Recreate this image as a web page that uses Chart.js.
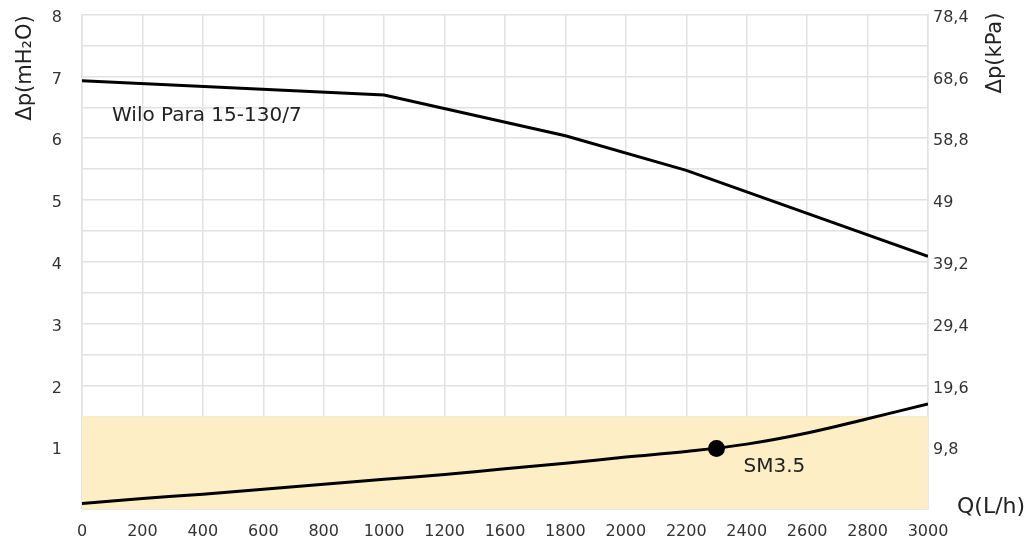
<!DOCTYPE html>
<html>
<head>
<meta charset="utf-8">
<script src="https://cdn.jsdelivr.net/npm/chart.js@4.4.0/dist/chart.umd.min.js"></script>
<style>
  html, body { margin: 0; padding: 0; background: #fff; }
  #wrap { width: 1029px; height: 540px; }
</style>
</head>
<body>
<div id="wrap"><canvas id="pumpChart"></canvas></div>
<script>
// x tick labels as printed (1400 is missing on the original axis)
const xLabels = ['0', '200', '400', '600', '800', '1000', '1200', '1600', '1800', '2000', '2200', '2400', '2600', '2800', '3000'];
const yLabels = ['', '1', '2', '3', '4', '5', '6', '7', '8'];
const kPaLabels = ['', '9,8', '19,6', '29,4', '39,2', '49', '58,8', '68,6', '78,4'];

// pump curve (Wilo Para 15-130/7)
const pumpQ = [0, 1000, 1800, 2200, 3000];
const pumpH = [6.93, 6.70, 6.04, 5.48, 4.09];

// system curve
const sysQ = [0, 200, 400, 600, 800, 1000, 1200, 1600, 1800, 2000, 2200, 2400, 2600, 2800, 3000];
const sysH = [0.09, 0.17, 0.24, 0.32, 0.40, 0.48, 0.56, 0.65, 0.74, 0.84, 0.93, 1.05, 1.23, 1.46, 1.70];

// operating point
const dutyQ = [2300];
const dutyH = [0.98];

// shaded zone
const zoneTop = 1.5;

const FONT = 'DejaVu Sans';

// the axis is evenly spaced by printed label, so place Q between its neighbouring labels
function qToSlot(q) {
    const vals = xLabels.map(Number);
    for (let i = 0; i < vals.length - 1; i++) {
        if (q <= vals[i + 1]) {
            return i + (q - vals[i]) / (vals[i + 1] - vals[i]);
        }
    }
    return vals.length - 1;
}

function toPoints(qs, hs) {
    return qs.map((q, i) => ({ x: qToSlot(q), y: hs[i] }));
}

const textPlugin = {
    id: 'textPlugin',
    afterDraw(chart) {
        const ctx = chart.ctx;
        const xs = chart.scales.x;
        const ys = chart.scales.y;
        ctx.save();
        ctx.fillStyle = '#222';
        ctx.textBaseline = 'middle';

        ctx.font = '20px "' + FONT + '"';
        ctx.textAlign = 'left';
        ctx.fillText('Wilo Para 15-130/7', 112, 116);
        ctx.fillText('SM3.5', xs.getPixelForValue(qToSlot(2300)) + 27, ys.getPixelForValue(0.68));
        ctx.font = '22px "' + FONT + '"';
        ctx.fillText('Q(L/h)', 957, 507);

        // left axis title
        ctx.save();
        ctx.translate(26, 68);
        ctx.rotate(-Math.PI / 2);
        ctx.textAlign = 'center';
        ctx.font = '21px "' + FONT + '"';
        ctx.fillText('\u0394p(mH\u2082O)', 0, 0);
        ctx.restore();

        // right axis title
        ctx.save();
        ctx.translate(996, 53);
        ctx.rotate(-Math.PI / 2);
        ctx.textAlign = 'center';
        ctx.font = '21px "' + FONT + '"';
        ctx.fillText('\u0394p(kPa)', 0, 0);
        ctx.restore();

        ctx.restore();
    }
};

const pumpChart = document.getElementById('pumpChart');
new Chart(pumpChart, {
    type: 'line',
    data: {
        datasets: [
            {
                label: 'SM3.5 point',
                data: toPoints(dutyQ, dutyH),
                showLine: false,
                pointRadius: 8.5,
                pointBackgroundColor: '#000',
                pointBorderWidth: 0,
                order: 0
            },
            {
                label: 'Wilo Para 15-130/7',
                data: toPoints(pumpQ, pumpH),
                borderColor: '#000',
                borderWidth: 3,
                pointRadius: 0,
                tension: 0,
                fill: false,
                order: 1
            },
            {
                label: 'System',
                data: toPoints(sysQ, sysH),
                borderColor: '#000',
                borderWidth: 3,
                pointRadius: 0,
                tension: 0.4,
                fill: false,
                order: 2
            },
            {
                label: 'Zone',
                data: [{ x: 0, y: zoneTop }, { x: xLabels.length - 1, y: zoneTop }],
                borderWidth: 0,
                pointRadius: 0,
                backgroundColor: '#fdeec6',
                fill: 'origin',
                order: 3
            }
        ]
    },
    options: {
        responsive: true,
        maintainAspectRatio: false,
        animation: false,
        layout: { padding: 0 },
        plugins: {
            legend: { display: false },
            tooltip: { enabled: false }
        },
        scales: {
            x: {
                type: 'linear',
                min: 0,
                max: xLabels.length - 1,
                grid: { color: '#e2e2e2', lineWidth: 1.5, drawTicks: false },
                border: { color: '#e2e2e2', width: 1.5 },
                ticks: {
                    stepSize: 1,
                    padding: 13,
                    color: '#333',
                    font: { family: FONT, size: 16 },
                    maxRotation: 0,
                    autoSkip: false,
                    callback: (v) => xLabels[v]
                },
                afterFit: (s) => { s.height = 31; }
            },
            y: {
                min: 0,
                max: 8,
                grid: { color: '#e2e2e2', lineWidth: 1.5, drawTicks: true, tickLength: 15, tickColor: 'rgba(0,0,0,0)' },
                border: { color: '#e2e2e2', width: 1.5 },
                ticks: {
                    stepSize: 0.5,
                    padding: 5,
                    labelOffset: 3,
                    color: '#333',
                    font: { family: FONT, size: 16 },
                    callback: (v) => Number.isInteger(v) ? yLabels[v] : ''
                },
                afterFit: (s) => { s.width = 82; }
            },
            y2: {
                position: 'right',
                min: 0,
                max: 8,
                grid: { display: false, drawTicks: false },
                border: { color: '#e2e2e2', width: 1.5 },
                ticks: {
                    stepSize: 0.5,
                    padding: 5,
                    labelOffset: 3,
                    color: '#333',
                    font: { family: FONT, size: 16 },
                    callback: (v) => Number.isInteger(v) ? kPaLabels[v] : ''
                },
                afterFit: (s) => { s.width = 101; }
            }
        }
    },
    plugins: [textPlugin]
});
</script>
</body>
</html>
